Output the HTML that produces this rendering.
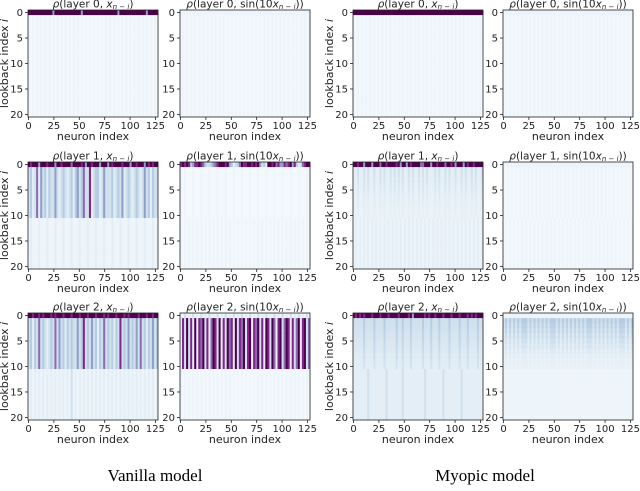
<!DOCTYPE html>
<html><head><meta charset="utf-8">
<style>
body{margin:0;background:#fff;width:640px;height:486px;overflow:hidden}
svg{font-family:"DejaVu Sans","Liberation Sans",sans-serif}
</style></head>
<body>
<svg id="fig" width="640" height="486" viewBox="0 0 640 486" xmlns="http://www.w3.org/2000/svg">
<text x="155" y="481" font-family="Liberation Serif, serif" font-size="17" text-anchor="middle">Vanilla model</text>
<text x="485" y="481" font-family="Liberation Serif, serif" font-size="17" text-anchor="middle">Myopic model</text>
</svg>
<script>
// Each char = 2 neuron columns (64 chars = 128 neurons). Digits 0-8 = intensity level.
const panelTitles = [
 ["layer 0","x"],["layer 0","sin"],["layer 0","x"],["layer 0","sin"],
 ["layer 1","x"],["layer 1","sin"],["layer 1","x"],["layer 1","sin"],
 ["layer 2","x"],["layer 2","sin"],["layer 2","x"],["layer 2","sin"]];
const topRow = [
 "8888888888885888888888888858888888888888888858888888888888588888",
 "1111111111111111111111111111111111111111111111111111111111111111",
 "8888888888888888888888888888888888888888888888888888888888888888",
 "1111111111111111111111111111111111111111111111111111111111111111",
 "8788858887888588788886888878588788858885878888788858878885878788",
 "7878745778764334567888785423468778878785342887867557678574236788",
 "8878858885888688788887858858788886688858878886887858885878878888",
 "1111111111111111111111111111111111111111111111111111111111111111",
 "8878878788878788878887888788878887888787888788878788887888788788",
 "2131213121312131213121312131213121312131213121312131213121312131",
 "8787878887888788878888788887858888878788788878887888788878787888",
 "1111111111111111111111111111111111111111111111111111111111111111"];
const bandA = [
 "1010101010101010101010101010101010101010101010101010101010101010",
 "0101010101010101010101010101010101010101010101010101010101010101",
 "1010101010101010101010101010101010101010101010101010101010101010",
 "0101010101010101010101010101010101010101010101010101010101010101",
 "3423625342433532343234245346337234423533342343523432343235342433",
 "1010001000100010001000100010001000100010001000100010001000100010",
 "2232232322322323223232323223232232323222323223232232232322323223",
 "1010101010101010101010101010101010101010101010101010101010101010",
 "3424363432343635342434335347343534243634342437343534353634243534",
 "2738372827683726873827386728376837827683728738627836872736827836",
 "3333343333433334333334334333433333433343334333343333433343333433",
 "3434343434443434343434344434343434343434344434343434343434443434"];
const bandB = [
 "1010101010101010101010101010101010101010101010101010101010101010",
 "0101010101010101010101010101010101010101010101010101010101010101",
 "1010101010101010101010101010101010101010101010101010101010101010",
 "0101010101010101010101010101010101010101010101010101010101010101",
 "1211121112111211121112111211121112111211121112111211121112111211",
 "1010101010101010101010101010101010101010101010101010101010101010",
 "1212121212121212121212121212121212121212121212121212121212121212",
 "0101010101010101010101010101010101010101010101010101010101010101",
 "1212121212121212121213121212121212121212121212121212121212121212",
 "1010101010101010101010101010101010101010101010101010101010101010",
 "2222222322222222322222223222222222232222222232222222232222222222",
 "1111111111111111111111111111111111111111111111111111111111111111"];
const fadeA = [0,0,0,0,0,0,0.4,0,0,0,0.3,0.6];
const xTicks = [0,25,50,75,100,125];
const yTicks = [0,5,10,15,20];

const NS="http://www.w3.org/2000/svg";
const svg=document.getElementById('fig');
const colX=[28,180,353,503], rowY=[10,162,313], PW=130, PH=107, NC=128, NR=21;
const stops=["#f3f8fc","#e0ecf4","#bfd3e6","#9ebcda","#8c96c6","#8c6bb1","#88419d","#810f7c","#4d004b"];
const levelPos=[0,0.3,0.8,1.5,2.3,3.8,5,6.6,8];
function hex(c){return [1,3,5].map(i=>parseInt(c.substr(i,2),16));}
function color(d){d=Math.max(0,Math.min(8,d));const di=Math.min(7,Math.floor(d)),dt=d-di;
 const v=levelPos[di]+(levelPos[di+1]-levelPos[di])*dt;
 const i=Math.min(7,Math.floor(v)),t=v-i;const a=hex(stops[i]),b=hex(stops[i+1]);return "rgb("+a.map((x,k)=>Math.round(x+(b[k]-x)*t)).join(",")+")";}
function el(tag,attrs,parent){const e=document.createElementNS(NS,tag);for(const k in attrs)e.setAttribute(k,attrs[k]);(parent||svg).appendChild(e);return e;}
function value(p,r,c){const ch=Math.floor(c/2);
 if(r===0)return +topRow[p][ch];
 if(r<=10){const v=+bandA[p][ch];return v*(1-fadeA[p]*(r-1)/9);}
 return +bandB[p][ch];}

for(let p=0;p<12;p++){
 const x0=colX[p%4], y0=rowY[Math.floor(p/4)];
 const sx=v=>x0+(v+0.5)*PW/NC, sy=v=>y0+(v+0.5)*PH/NR;
 const g=el('g',{});
 
 
 for(let r=0;r<NR;r++)for(let c=0;c<NC;c+=2){
  const rc=el('rect',{x:(sx(c)-PW/NC/2).toFixed(2),y:(sy(r)-PH/NR/2).toFixed(2),width:(2*PW/NC+0.3).toFixed(2),height:(PH/NR+0.3).toFixed(2),fill:color(value(p,r,c))},g);
  
  
 }
 const fr=el('rect',{x:x0,y:y0,width:PW,height:PH,fill:'none',stroke:'#222','stroke-width':0.8},g);
 
 
 xTicks.forEach(t=>{
  el('line',{x1:sx(t),x2:sx(t),y1:y0+PH,y2:y0+PH+3,stroke:'#222','stroke-width':0.8},g);
  const tx=el('text',{x:sx(t),y:y0+PH+12,'font-size':10,'text-anchor':'middle',fill:'#222'},g);
  tx.textContent=t;
  
  
 });
 yTicks.forEach(t=>{
  el('line',{x1:x0-3,x2:x0,y1:sy(t),y2:sy(t),stroke:'#222','stroke-width':0.8},g);
  const ty=el('text',{x:x0-5,y:sy(t)+3.5,'font-size':10,'text-anchor':'end',fill:'#222'},g);
  ty.textContent=t;
  
  
 });
 const xl=el('text',{x:x0+PW/2,y:y0+PH+23,'font-size':11,'text-anchor':'middle',fill:'#222'},g);
 xl.textContent='neuron index';
 
 
 if(p%2===0){
  const yl=el('text',{transform:'translate('+(x0-20)+','+(y0+PH/2)+') rotate(-90)','font-size':11,'text-anchor':'middle',fill:'#222'},g);
  yl.innerHTML='lookback index <tspan font-style="italic">i</tspan>';
  
  
 }
 const tt=el('text',{x:x0+PW/2,y:y0-2.5,'font-size':10.5,'text-anchor':'middle',fill:'#222'},g);
 const lay=panelTitles[p][0];
 tt.innerHTML= panelTitles[p][1]==='x'
  ? '<tspan font-style="italic">ρ</tspan>('+lay+', <tspan font-style="italic">x</tspan><tspan font-size="7" dy="1.5" font-style="italic">n − i</tspan><tspan dy="-1.5">)</tspan>'
  : '<tspan font-style="italic">ρ</tspan>('+lay+', sin(10<tspan font-style="italic">x</tspan><tspan font-size="7" dy="1.5" font-style="italic">n − i</tspan><tspan dy="-1.5">))</tspan>';
 
 
}
</script>
</body></html>
